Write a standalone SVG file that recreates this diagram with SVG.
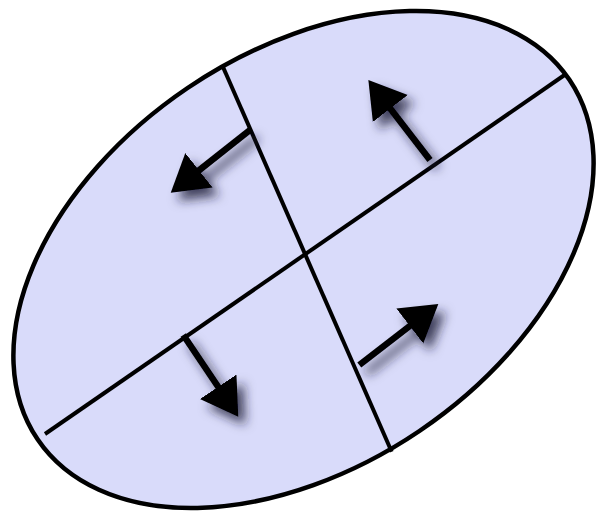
<svg xmlns="http://www.w3.org/2000/svg" width="596" height="513" viewBox="0 0 596 513">
  <style>
    .cell { fill: #d9dbfa; stroke: #000; stroke-width: 4.5; }
    .split { stroke: #000; stroke-width: 4; fill: none; }
    .arrow { stroke: #000; stroke-width: 6.5; fill: none; marker-end: url(#head); }
  </style>
  <defs>
    <marker id="head" markerUnits="userSpaceOnUse" markerWidth="38" markerHeight="48" viewBox="0 -2 38 48" refX="2" refY="22" orient="auto">
      <path d="M0,0 L36,22 L0,44 Z" fill="#000"/>
    </marker>
    <filter id="shadow" x="-60%" y="-60%" width="220%" height="220%">
      <feGaussianBlur in="SourceAlpha" stdDeviation="5.5" result="b"/>
      <feOffset in="b" dx="7" dy="8" result="o"/>
      <feFlood flood-color="#1c1c36" flood-opacity="0.8"/>
      <feComposite in2="o" operator="in" result="s"/>
      <feMerge>
        <feMergeNode in="s"/>
        <feMergeNode in="SourceGraphic"/>
      </feMerge>
    </filter>
  </defs>
  <g id="cell">
    <ellipse class="cell" cx="303.5" cy="259.5" rx="321" ry="207" transform="rotate(-34.06 303.5 259.5)"/>
  </g>
  <g id="division-lines">
    <line class="split" x1="45" y1="434" x2="566" y2="74"/>
    <line class="split" x1="223" y1="67" x2="391.7" y2="451.7"/>
  </g>
  <g id="connectors" filter="url(#shadow)">
    <line class="arrow" x1="250" y1="130" x2="197.4" y2="171.6"/>
    <line class="arrow" x1="430" y1="160" x2="389.1" y2="106.9"/>
    <line class="arrow" x1="183.3" y1="335" x2="219.3" y2="388.5"/>
    <line class="arrow" x1="359.3" y1="365" x2="411.4" y2="324.8"/>
  </g>
</svg>
